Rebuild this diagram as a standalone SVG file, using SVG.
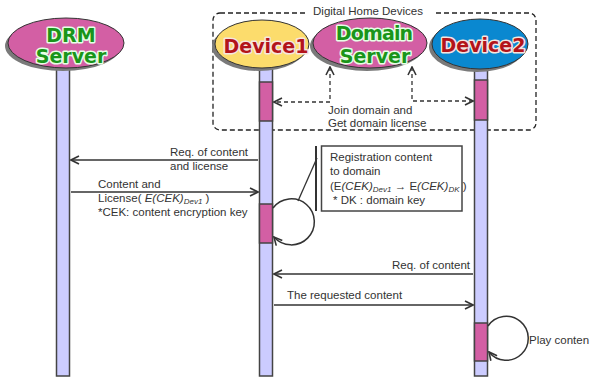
<svg xmlns="http://www.w3.org/2000/svg" width="590" height="378" viewBox="0 0 590 378">
<defs>
<style>
.t{font-family:"Liberation Sans",Arial,sans-serif;font-size:11.5px;fill:#333}
.it{font-style:italic}
.sub{font-style:italic;font-size:8px}
.life{fill:#ccccff;stroke:#444;stroke-width:1.5}
.act{fill:#d35fa4;stroke:#444;stroke-width:1.5}
.shadow{fill:#7a7a7a}
.el{stroke:#333;stroke-width:1}
.lbl{font-family:"DejaVu Sans",sans-serif;font-weight:bold;font-size:19px;text-anchor:middle;paint-order:stroke;stroke-width:3;stroke-linejoin:round}
.green{fill:#1a951a;stroke:#e6ffe6}
.red{fill:#b3141a;stroke:#f5e6e0}
.msg{fill:none;stroke:#333;stroke-width:1.5}
.dash{fill:none;stroke:#333;stroke-width:1.3;stroke-dasharray:4,3}
</style>
<marker id="ah" viewBox="0 0 10 10" refX="9" refY="5" markerWidth="10" markerHeight="10" markerUnits="userSpaceOnUse" orient="auto-start-reverse">
<path d="M1,1 L9,5 L1,9" fill="none" stroke="#333" stroke-width="1.6"/>
</marker>
</defs>

<!-- group box -->
<g id="digital-home-devices">
<rect x="213" y="13" width="323" height="117" rx="7" fill="none" stroke="#222" stroke-width="1.3" stroke-dasharray="5,3"/>
<rect x="305" y="4" width="129" height="16" fill="#fff"/>
<text class="t" x="368" y="15" text-anchor="middle">Digital Home Devices</text>
</g>

<g id="drm-server">
<rect class="life" x="56.5" y="68" width="13" height="308"/>
<ellipse class="shadow" cx="63" cy="46" rx="58" ry="25"/>
<ellipse class="el" cx="66" cy="43" rx="58" ry="25" fill="#d35fa4"/>
<text class="lbl green" x="71" y="42">DRM</text>
<text class="lbl green" x="71" y="63">Server</text>
</g>

<g id="device1">
<rect class="life" x="259.5" y="66" width="13" height="310"/>
<rect class="act" x="259.5" y="82" width="13" height="39"/>
<rect class="act" x="259.5" y="204" width="13" height="39"/>
<ellipse class="shadow" cx="259" cy="47" rx="47" ry="24"/>
<ellipse class="el" cx="262" cy="44" rx="47" ry="24" fill="#fcdc6c"/>
<text class="lbl red" x="266" y="53">Device1</text>
</g>

<g id="domain-server">
<ellipse class="shadow" cx="367" cy="46" rx="57" ry="25"/>
<ellipse class="el" cx="370" cy="43" rx="57" ry="25" fill="#d35fa4"/>
<text class="lbl green" x="374" y="40" letter-spacing="-0.8">Domain</text>
<text class="lbl green" x="375" y="63">Server</text>
</g>

<g id="device2">
<rect class="life" x="474.5" y="68" width="13" height="308"/>
<rect class="act" x="474.5" y="80" width="13" height="40"/>
<rect class="act" x="474.5" y="323" width="13" height="38"/>
<ellipse class="shadow" cx="477" cy="47" rx="48" ry="25"/>
<ellipse class="el" cx="480" cy="44" rx="48" ry="25" fill="#0a88d0"/>
<text class="lbl red" x="483" y="52">Device2</text>
</g>

<g id="note">
<line x1="316" y1="146" x2="316" y2="211" stroke="#333" stroke-width="2"/>
<rect x="321.5" y="146" width="140.5" height="65" fill="#fff" stroke="#444" stroke-width="1.5"/>
<text class="t" x="330" y="161">Registration content</text>
<text class="t" x="330" y="175">to domain</text>
<text class="t" x="330" y="190">(E<tspan class="it">(CEK)</tspan><tspan class="sub" dy="2">Dev1</tspan><tspan dy="-2"> → E</tspan><tspan class="it">(CEK)</tspan><tspan class="sub" dy="2">DK</tspan><tspan dy="-2">  )</tspan></text>
<text class="t" x="333" y="204">* DK : domain  key</text>
</g>

<g id="connectors">
<path class="dash" d="M330,67 L330,102 L274,102" marker-start="url(#ah)" marker-end="url(#ah)"/>
<path class="dash" d="M412,67 L412,101 L473,101" marker-start="url(#ah)" marker-end="url(#ah)"/>
<line class="msg" x1="258" y1="160" x2="71" y2="160" marker-end="url(#ah)"/>
<line class="msg" x1="71" y1="192" x2="258" y2="192" marker-end="url(#ah)"/>
<path class="msg" d="M273,208 A23,23 0 1 1 274,237" marker-end="url(#ah)"/>
<line x1="317" y1="158" x2="298" y2="201" stroke="#333" stroke-width="1.3"/>
<line class="msg" x1="473" y1="274" x2="274" y2="274" marker-end="url(#ah)"/>
<line class="msg" x1="274" y1="305" x2="473" y2="305" marker-end="url(#ah)"/>
<path class="msg" d="M488,326 A22,22 0 1 1 489,352" marker-end="url(#ah)"/>
</g>

<g id="labels">
<text class="t" x="328" y="114">Join domain  and</text>
<text class="t" x="328" y="127">Get domain  license</text>
<text class="t" x="170" y="156">Req. of content</text>
<text class="t" x="170" y="170">and license</text>
<text class="t" x="98" y="188">Content and</text>
<text class="t" x="98" y="202">License( <tspan class="it">E(CEK)</tspan><tspan class="sub" dy="2">Dev1</tspan><tspan dy="-2"> )</tspan></text>
<text class="t" x="98" y="216">*CEK: content encryption key</text>
<text class="t" x="470" y="269" text-anchor="end">Req. of content</text>
<text class="t" x="287" y="299">The requested content</text>
<text class="t" x="529" y="344">Play conten</text>
</g>
</svg>
